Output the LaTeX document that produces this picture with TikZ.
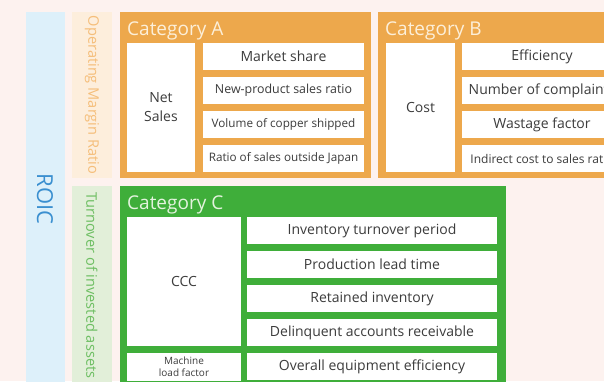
\documentclass[tikz,border=0pt]{standalone}
\usepackage{fontspec}
\setmainfont{Open Sans}
\usetikzlibrary{positioning}
\definecolor{pagebg}{HTML}{FDF2EF}
\definecolor{roicbg}{HTML}{DDF0FA}
\definecolor{roictext}{HTML}{3A8FD0}
\definecolor{omrbg}{HTML}{FDEEDC}
\definecolor{omrtext}{HTML}{F5BE7A}
\definecolor{turnbg}{HTML}{E2EFD9}
\definecolor{turntext}{HTML}{6DBE62}
\definecolor{catorange}{HTML}{EDA84C}
\definecolor{catgreen}{HTML}{3FAE3A}
\definecolor{titleorange}{HTML}{FCEFD9}
\definecolor{titlegreen}{HTML}{E4F3DE}
\definecolor{itemgray}{HTML}{3C3C3C}

\begin{document}
\begin{tikzpicture}[
    x=1pt, y=-1pt,
    panel/.style={
        anchor=north west,
        fill=#1,
        inner sep=0pt,
        outer sep=0pt
    },
    title/.style={
        anchor=base west,
        inner sep=0pt,
        text=#1,
        font=\fontsize{19}{21}\selectfont
    },
    item/.style={
        fill=white,
        inner sep=0pt,
        outer sep=0pt,
        minimum height=27pt,
        align=center,
        text=itemgray,
        font=\fontsize{12}{14}\selectfont
    },
    bigitem/.style={
        item,
        font=\fontsize{14}{16}\selectfont
    },
    vlabel/.style={
        rotate=-90,
        inner sep=0pt,
        text=#1,
        font=\fontsize{14.6}{17}\selectfont
    }
]
\path[fill=pagebg] (0,0) rectangle (604,381);
\useasboundingbox (0,0) rectangle (604,381);
\clip (0,0) rectangle (604,381);

% left bands
\node[panel=roicbg, minimum width=39pt, minimum height=372pt] (roic) at (26,12) {};
\node[vlabel=roictext, font=\fontsize{22}{24}\selectfont] (roiclbl) at (45,199) {ROIC};
\node[panel=omrbg, minimum width=40pt, minimum height=166pt] (omr) at (72,12) {};
\node[vlabel=omrtext] (omrlbl) at (omr.center) {Operating Margin Ratio};
\node[panel=turnbg, minimum width=40pt, minimum height=198pt] (turn) at (72,186) {};
\node[vlabel=turntext, anchor=west] (turnlbl) at (92,192) {Turnover of invested assets};

% Category A
\node[panel=catorange, minimum width=251pt, minimum height=166pt] (catA) at (120,12) {};
\node[title=titleorange] (catAlbl) at (127,35) {Category A};
\node[bigitem, anchor=north west, minimum width=68pt, minimum height=129pt,
      font=\fontsize{14}{19}\selectfont] (netsales) at (127,43) {Net\\Sales};
\node[bigitem, anchor=north west, minimum width=161pt] (mshare) at (203,43) {Market share};
\node[item, minimum width=161pt, below=7pt of mshare, font=\fontsize{12.4}{14}\selectfont]
    (newprod) {New-product sales ratio};
\node[item, minimum width=161pt, below=7pt of newprod, font=\fontsize{11.7}{14}\selectfont]
    (copper) {Volume of copper shipped};
\node[item, minimum width=161pt, below=7pt of copper, font=\fontsize{11.7}{14}\selectfont]
    (outjp) {Ratio of sales outside Japan};

% Category B
\node[panel=catorange, minimum width=251pt, minimum height=166pt] (catB) at (378,12) {};
\node[title=titleorange] (catBlbl) at (385,35) {Category B};
\node[bigitem, anchor=north west, minimum width=69pt, minimum height=129pt] (cost) at (386,43) {Cost};
\node[bigitem, anchor=north west, minimum width=160pt] (effic) at (462,43) {Efficiency};
\node[bigitem, minimum width=160pt, below=7pt of effic] (complain) {Number of complaints};
\node[bigitem, minimum width=160pt, below=7pt of complain] (wastage) {Wastage factor};
\node[item, minimum width=160pt, below=7pt of wastage] (indirect) {Indirect cost to sales ratio};

% Category C
\node[panel=catgreen, minimum width=386pt, minimum height=198pt] (catC) at (120,186) {};
\node[title=titlegreen] (catClbl) at (127,209) {Category C};
\node[bigitem, anchor=north west, minimum width=114pt, minimum height=129pt] (ccc) at (127,217) {CCC};
\node[item, below=7pt of ccc, minimum width=114pt, minimum height=28pt,
      font=\fontsize{10}{12}\selectfont] (machine) {Machine\\load factor};
\node[bigitem, anchor=north west, minimum width=250pt] (invturn) at (247,217) {Inventory turnover period};
\node[bigitem, minimum width=250pt, below=7pt of invturn] (leadtime) {Production lead time};
\node[bigitem, minimum width=250pt, below=7pt of leadtime] (retained) {Retained inventory};
\node[bigitem, minimum width=250pt, below=7pt of retained] (delinq) {Delinquent accounts receivable};
\node[bigitem, minimum width=250pt, below=7pt of delinq] (oee) {Overall equipment efficiency};
\end{tikzpicture}
\end{document}
